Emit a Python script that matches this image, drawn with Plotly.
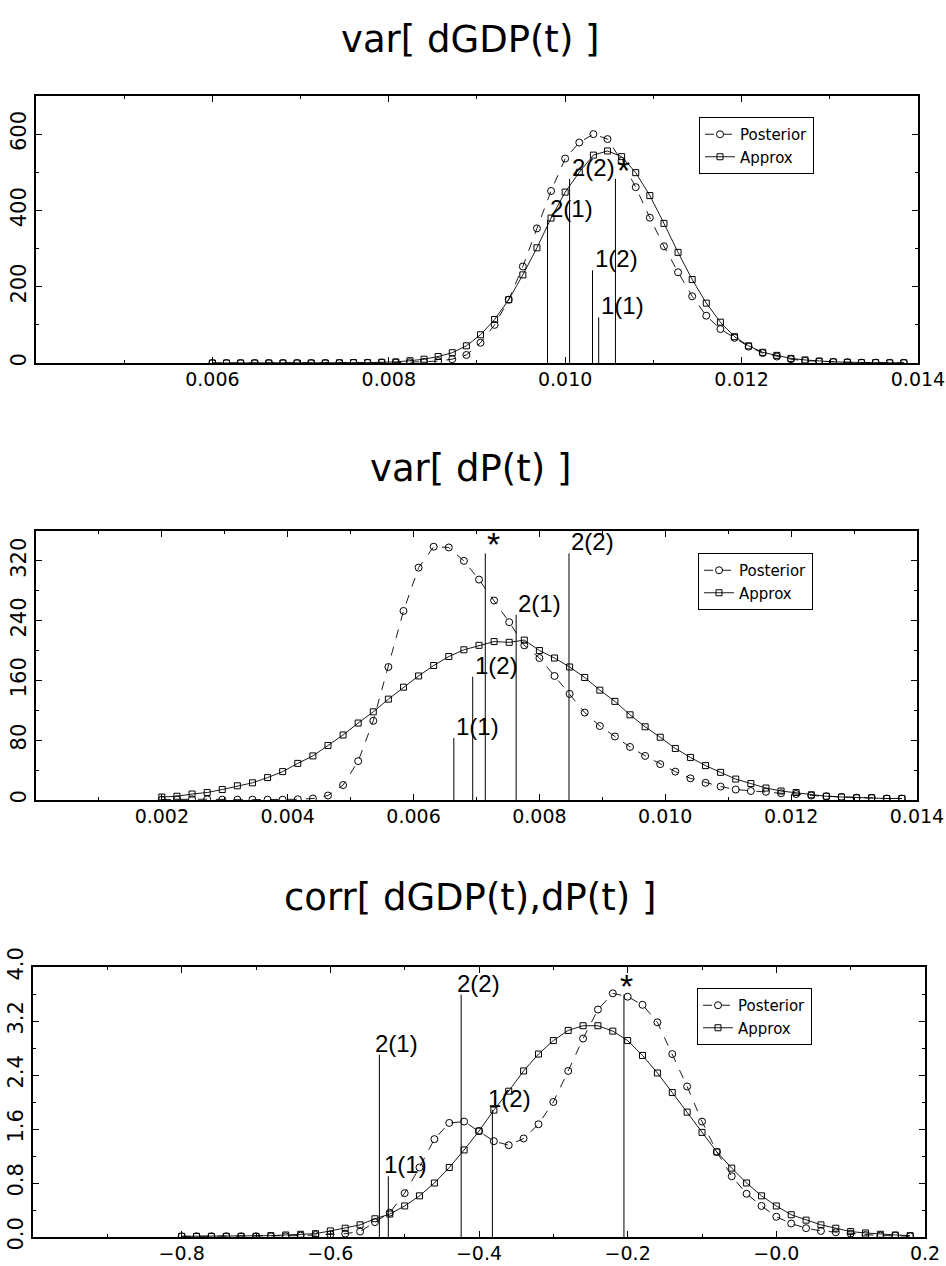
import plotly.graph_objects as go

W, H = 946, 1266

# ---------------- data ----------------
# Panel 1: var[ dGDP(t) ]
x1 = [0.00600, 0.00616, 0.00632, 0.00648, 0.00664, 0.00680, 0.00696, 0.00712, 0.00728, 0.00744,
      0.00760, 0.00776, 0.00792, 0.00808, 0.00824, 0.00840, 0.00856, 0.00872, 0.00888, 0.00904,
      0.00920, 0.00936, 0.00952, 0.00968, 0.00984, 0.01000, 0.01016, 0.01032, 0.01048, 0.01064,
      0.01080, 0.01096, 0.01112, 0.01128, 0.01144, 0.01160, 0.01176, 0.01192, 0.01208, 0.01224,
      0.01240, 0.01256, 0.01272, 0.01288, 0.01304, 0.01320, 0.01336, 0.01352, 0.01368, 0.01384]
post1 = [0, 0, 0, 0, 0, 0, 0, 0, 0, 0,
         0.5, 0.5, 1, 1, 2, 3, 5, 10, 21, 53,
         100, 166, 253, 353, 451, 536, 578, 600, 587, 530,
         461, 381, 306, 238, 175, 124, 89, 66, 43, 26,
         17, 10, 6, 4, 3, 2, 1, 1, 0.5, 0.5]
appr1 = [0, 0, 0, 0, 0, 0, 0, 0, 0, 0.5,
         1, 1, 2, 3, 6, 10, 17, 27, 45, 74,
         114, 166, 231, 302, 380, 448, 500, 545, 556, 541,
         499, 439, 366, 290, 219, 157, 107, 69, 45, 28,
         20, 12, 8, 5, 3, 2, 1, 1, 0.5, 0.5]
mark1_x = [0.00980, 0.01005, 0.01031, 0.01038, 0.01057]
mark1_h = [375, 483, 243, 120, 483]
mark1_lab = ["2(1)", "2(2)", "1(2)", "1(1)", "*"]
xt1_vals = [0.006, 0.008, 0.010, 0.012, 0.014]
xt1_text = ["0.006", "0.008", "0.010", "0.012", "0.014"]
yt1_vals = [0, 200, 400, 600]
yt1_text = ["0", "200", "400", "600"]

# Panel 2: var[ dP(t) ]
x2 = [0.00200, 0.00224, 0.00248, 0.00272, 0.00296, 0.00320, 0.00344, 0.00368, 0.00392, 0.00416,
      0.00440, 0.00464, 0.00488, 0.00512, 0.00536, 0.00560, 0.00584, 0.00608, 0.00632, 0.00656,
      0.00680, 0.00704, 0.00728, 0.00752, 0.00776, 0.00800, 0.00824, 0.00848, 0.00872, 0.00896,
      0.00920, 0.00944, 0.00968, 0.00992, 0.01016, 0.01040, 0.01064, 0.01088, 0.01112, 0.01136,
      0.01160, 0.01184, 0.01208, 0.01232, 0.01256, 0.01280, 0.01304, 0.01328, 0.01352, 0.01376]
post2 = [0.5, 1, 1, 1, 0.5, 0.5, 0.5, 0.5, 0.5, 1,
         2, 6, 20, 52, 106, 178, 253, 311, 339, 338,
         320, 295, 267, 238, 207, 190, 166, 142, 117, 99,
         85, 71, 59, 48, 38, 29, 23, 18, 14, 12,
         11, 9, 8, 6, 5, 4, 3, 3, 2, 2]
appr2 = [4, 5, 8, 10, 14, 19, 23, 30, 38, 49,
         59, 73, 87, 103, 118, 135, 151, 166, 180, 192,
         201, 207, 212, 211, 214, 200, 190, 178, 164, 147,
         132, 114, 98, 84, 69, 57, 46, 37, 28, 22,
         16, 12, 10, 7, 5, 4, 3, 3, 2, 2]
mark2_x = [0.00664, 0.00694, 0.00714, 0.00763, 0.00847]
mark2_h = [83, 165, 330, 248, 330]
mark2_lab = ["1(1)", "1(2)", "*", "2(1)", "2(2)"]
xt2_vals = [0.002, 0.004, 0.006, 0.008, 0.010, 0.012, 0.014]
xt2_text = ["0.002", "0.004", "0.006", "0.008", "0.010", "0.012", "0.014"]
yt2_vals = [0, 80, 160, 240, 320]
yt2_text = ["0", "80", "160", "240", "320"]

# Panel 3: corr[ dGDP(t),dP(t) ]
x3 = [-0.80, -0.78, -0.76, -0.74, -0.72, -0.70, -0.68, -0.66, -0.64, -0.62,
      -0.60, -0.58, -0.56, -0.54, -0.52, -0.50, -0.48, -0.46, -0.44, -0.42,
      -0.40, -0.38, -0.36, -0.34, -0.32, -0.30, -0.28, -0.26, -0.24, -0.22,
      -0.20, -0.18, -0.16, -0.14, -0.12, -0.10, -0.08, -0.06, -0.04, -0.02,
      0.00, 0.02, 0.04, 0.06, 0.08, 0.10, 0.12, 0.14, 0.16, 0.18]
post3 = [0.01, 0.01, 0.01, 0.01, 0.01, 0.01, 0.01, 0.01, 0.02, 0.03,
         0.04, 0.05, 0.08, 0.22, 0.36, 0.65, 1.03, 1.45, 1.69, 1.71,
         1.57, 1.42, 1.36, 1.46, 1.67, 2.00, 2.46, 2.94, 3.37, 3.61,
         3.56, 3.44, 3.18, 2.71, 2.23, 1.71, 1.26, 0.90, 0.64, 0.46,
         0.30, 0.20, 0.13, 0.09, 0.07, 0.05, 0.03, 0.02, 0.02, 0.01]
appr3 = [0.01, 0.01, 0.01, 0.01, 0.01, 0.01, 0.02, 0.03, 0.04, 0.05,
         0.09, 0.13, 0.18, 0.27, 0.34, 0.46, 0.61, 0.80, 1.03, 1.29,
         1.57, 1.88, 2.16, 2.46, 2.71, 2.91, 3.06, 3.13, 3.13, 3.05,
         2.91, 2.69, 2.43, 2.14, 1.85, 1.55, 1.26, 1.02, 0.80, 0.61,
         0.46, 0.33, 0.25, 0.18, 0.13, 0.08, 0.06, 0.04, 0.03, 0.02]
mark3_x = [-0.534, -0.522, -0.424, -0.382, -0.205]
mark3_h = [2.70, 0.90, 3.59, 1.88, 3.59]
mark3_lab = ["2(1)", "1(1)", "2(2)", "1(2)", "*"]
xt3_vals = [-0.8, -0.6, -0.4, -0.2, 0.0, 0.2]
xt3_text = ["\u22120.8", "\u22120.6", "\u22120.4", "\u22120.2", "\u22120.0", "0.2"]
yt3_vals = [0.0, 0.8, 1.6, 2.4, 3.2, 4.0]
yt3_text = ["0.0", "0.8", "1.6", "2.4", "3.2", "4.0"]

titles = ["var[ dGDP(t) ]", "var[ dP(t) ]", "corr[ dGDP(t),dP(t) ]"]

# ---------------- layout geometry (pixels) ----------------
boxes = [  # left, right, top, bottom
    (36, 918, 96, 363),
    (36, 917, 531, 800),
    (33, 925, 967, 1237),
]
title_y = [39, 468, 897]
xranges = [[0.004, 0.0140005], [0.0, 0.0140005], [-1.0, 0.2000005]]
yranges = [[0, 700], [0, 360], [0, 4.0]]
xminor = [0.001, 0.001, 0.1]
yminor = [100, 40, 0.4]
legend_pos = [(699, 117), (698, 553), (697, 988)]
label_xshift = [0, 0, -6]

XTICKFONT = dict(family="DejaVu Sans", size=19, color="black")
YTICKFONT = dict(family="DejaVu Sans", size=21, color="black")
LABFAMILY = "Liberation Sans Narrow, Liberation Sans, DejaVu Sans"

fig = go.Figure()

panels = [
    (x1, post1, appr1, mark1_x, mark1_h, mark1_lab, xt1_vals, xt1_text, yt1_vals, yt1_text),
    (x2, post2, appr2, mark2_x, mark2_h, mark2_lab, xt2_vals, xt2_text, yt2_vals, yt2_text),
    (x3, post3, appr3, mark3_x, mark3_h, mark3_lab, xt3_vals, xt3_text, yt3_vals, yt3_text),
]

annotations = []
for i, (xs, ps, aps, mx, mh, ml, xtv, xtt, ytv, ytt) in enumerate(panels):
    n = "" if i == 0 else str(i + 1)
    xa, ya = "x" + n, "y" + n
    leg = "legend" + n
    fig.add_trace(go.Scatter(
        x=xs, y=ps, mode="lines+markers", name="Posterior", xaxis=xa, yaxis=ya, legend=leg,
        line=dict(color="black", width=0.9, dash="dash"),
        marker=dict(symbol="circle-open", size=7, color="black", line=dict(width=1, color="black"))))
    fig.add_trace(go.Scatter(
        x=xs, y=aps, mode="lines+markers", name="Approx", xaxis=xa, yaxis=ya, legend=leg,
        line=dict(color="black", width=0.9),
        marker=dict(symbol="square-open", size=6, color="black", line=dict(width=1, color="black"))))
    vx, vy = [], []
    for xv, hv in zip(mx, mh):
        vx += [xv, xv, None]
        vy += [0, hv, None]
    fig.add_trace(go.Scatter(x=vx, y=vy, mode="lines", xaxis=xa, yaxis=ya, showlegend=False,
                             line=dict(color="black", width=1), hoverinfo="skip"))
    for xv, hv, lab in zip(mx, mh, ml):
        is_star = lab == "*"
        annotations.append(dict(x=xv, y=hv, xref=xa, yref=ya, text=lab, showarrow=False,
                                xanchor="left", yanchor="bottom",
                                xshift=label_xshift[i], yshift=-12 if is_star else -4,
                                font=dict(family=LABFAMILY, size=34 if is_star else 24, color="black")))
    l, r, t, b = boxes[i]
    axis_common = dict(showline=True, linecolor="black", linewidth=2, mirror="allticks",
                       ticks="inside", ticklen=6, tickwidth=1, tickcolor="black",
                       showgrid=False, zeroline=False, automargin=False,
                       tickmode="array")
    fig.layout["xaxis" + n] = dict(
        axis_common, domain=[l / W, r / W], range=xranges[i], anchor=ya,
        tickvals=xtv, ticktext=xtt, tickfont=XTICKFONT, ticklabelstandoff=-2,
        minor=dict(ticks="inside", ticklen=3, tickcolor="black", dtick=xminor[i], tick0=0))
    fig.layout["yaxis" + n] = dict(
        axis_common, domain=[1 - b / H, 1 - t / H], range=yranges[i], anchor=xa,
        tickvals=ytv, ticktext=ytt, tickangle=-90, tickfont=YTICKFONT,
        minor=dict(ticks="inside", ticklen=3, tickcolor="black", dtick=yminor[i], tick0=0))
    lx, ly = legend_pos[i]
    fig.layout[leg] = dict(x=lx / W, y=1 - ly / H, xanchor="left", yanchor="top",
                           bgcolor="white", bordercolor="black", borderwidth=1,
                           font=dict(family="DejaVu Sans", size=15, color="black"),
                           tracegroupgap=0, itemwidth=30)
    annotations.append(dict(x=470 / W, y=1 - title_y[i] / H, xref="paper", yref="paper",
                            text=titles[i], showarrow=False, xanchor="center", yanchor="middle",
                            font=dict(family="DejaVu Sans", size=37, color="black")))

fig.update_layout(width=W, height=H, margin=dict(l=0, r=0, t=0, b=0),
                  paper_bgcolor="white", plot_bgcolor="white", template="none",
                  annotations=annotations, showlegend=True)

fig.write_html("out.html")
